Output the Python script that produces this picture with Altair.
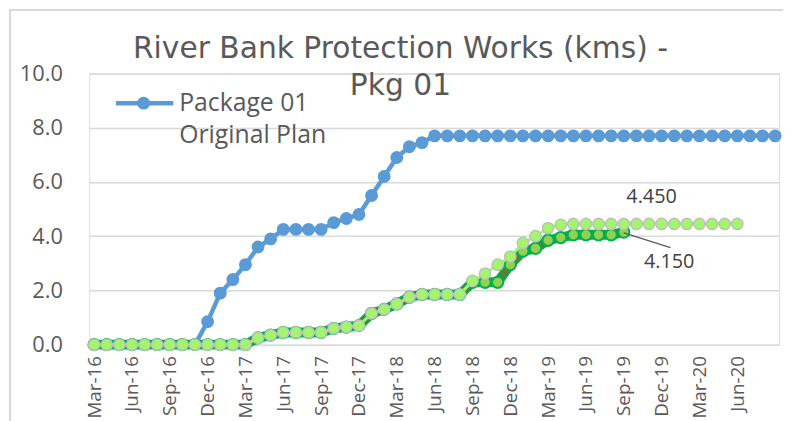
import altair as alt
import pandas as pd

# ---- data ----
months = pd.date_range("2016-03-01", "2020-09-01", freq="MS")
month_labels = [d.strftime("%b-%y") for d in months]

plan = [0, 0, 0, 0, 0, 0, 0, 0, 0,
        0.85, 1.9, 2.4, 2.95, 3.6, 3.9, 4.25, 4.25, 4.25, 4.25,
        4.5, 4.65, 4.8, 5.5, 6.2, 6.9, 7.3, 7.45,
        7.7, 7.7, 7.7, 7.7, 7.7, 7.7, 7.7, 7.7, 7.7, 7.7, 7.7, 7.7, 7.7, 7.7,
        7.7, 7.7, 7.7, 7.7, 7.7, 7.7, 7.7, 7.7, 7.7, 7.7, 7.7, 7.7, 7.7, 7.7]

actual = [0, 0, 0, 0, 0, 0, 0, 0, 0, 0, 0, 0, 0,
          0.25, 0.35, 0.45, 0.45, 0.45, 0.45, 0.6, 0.65, 0.7, 1.15, 1.3, 1.5,
          1.75, 1.85, 1.85, 1.85, 1.85, 2.3, 2.3, 2.3, 2.95, 3.45, 3.55, 3.85,
          3.95, 4.05, 4.05, 4.05, 4.05, 4.15]

revised = [0, 0, 0, 0, 0, 0, 0, 0, 0, 0, 0, 0, 0,
           0.25, 0.35, 0.45, 0.45, 0.45, 0.45, 0.6, 0.65, 0.7, 1.15, 1.3, 1.5,
           1.75, 1.85, 1.85, 1.85, 1.85, 2.35, 2.62, 2.95, 3.25, 3.75, 4.0, 4.3,
           4.42, 4.45, 4.45, 4.45, 4.45, 4.45, 4.45, 4.45, 4.45, 4.45, 4.45, 4.45,
           4.45, 4.45, 4.45]

x_ticks = list(range(0, 52, 3))
y_ticks = [0, 2, 4, 6, 8, 10]

ann_text = ["4.450", "4.150"]
ann_idx = [44.2, 45.6]
ann_val = [5.43, 3.03]
leader_from = (42, 4.12)
leader_to = (45.7, 3.58)

legend_label = ["Package 01", "Original Plan"]

FONT = "Open Sans"
GREY = "#595959"

df_plan = pd.DataFrame({"idx": range(len(plan)), "v": plan})
df_act = pd.DataFrame({"idx": range(len(actual)), "v": actual})
df_rev = pd.DataFrame({"idx": range(len(revised)), "v": revised})
df_ann = pd.DataFrame({"idx": ann_idx, "v": ann_val, "t": ann_text})
df_lead = pd.DataFrame({"idx": [leader_from[0]], "v": [leader_from[1]],
                        "idx2": [leader_to[0]], "v2": [leader_to[1]]})

label_js = "[" + ",".join("'%s'" % s for s in month_labels) + "][datum.value]"

x_enc = alt.X("idx:Q",
              scale=alt.Scale(domain=[-0.392, 54.31], nice=False, zero=False),
              axis=alt.Axis(values=x_ticks, labelExpr=label_js, labelAngle=270,
                            labelFontSize=19, labelFont=FONT, labelColor=GREY,
                            labelPadding=11, ticks=False, domain=False, grid=False,
                            labelOverlap=False, labelFlush=False, title=None))
y_enc = alt.Y("v:Q",
              scale=alt.Scale(domain=[0, 10], nice=False),
              axis=alt.Axis(values=y_ticks, format=".1f", labelFontSize=22,
                            labelFont=FONT, labelColor=GREY, labelPadding=27,
                            ticks=False, domain=False, grid=True,
                            gridColor="#d9d9d9", gridWidth=1.5, title=None))

frame = alt.Chart(pd.DataFrame({"a": [0]})).mark_rect(
    fill=None, stroke="#d9d9d9", strokeWidth=2).encode(
    x=alt.value(-80), x2=alt.value(800), y=alt.value(-64), y2=alt.value(500))

base_plan = alt.Chart(df_plan).encode(x=x_enc, y=y_enc)
plan_line = base_plan.mark_line(color="#5b9bd5", strokeWidth=4.5)
plan_pts = base_plan.mark_point(filled=True, color="#5b9bd5", size=170, opacity=1, shape="circle")

base_act = alt.Chart(df_act).encode(x="idx:Q", y="v:Q")
act_edge = base_act.mark_line(color="#00b050", strokeWidth=10, strokeJoin="round", strokeCap="round")
act_line = base_act.mark_line(color="#548235", strokeWidth=7, strokeJoin="round", strokeCap="round")
act_pts = base_act.mark_point(filled=True, fill="#92d050", stroke="#00b050", strokeWidth=2,
                              size=130, opacity=1, shape="circle")

base_rev = alt.Chart(df_rev).encode(x="idx:Q", y="v:Q")
rev_line = base_rev.mark_line(color="#99ff66", strokeWidth=3)
rev_pts = base_rev.mark_point(filled=True, fill="#a3f56b", stroke="#bfbfbf", strokeWidth=1.5,
                              size=130, opacity=1, shape="circle")

lead = alt.Chart(df_lead).mark_rule(color=GREY, strokeWidth=1.2).encode(
    x="idx:Q", x2="idx2:Q", y="v:Q", y2="v2:Q")
ann = alt.Chart(df_ann).mark_text(font=FONT, fontSize=20, color="#404040").encode(
    x="idx:Q", y="v:Q", text="t:N")

one = pd.DataFrame({"a": [0]})
leg_line = alt.Chart(one).mark_rule(color="#5b9bd5", strokeWidth=4.5).encode(
    x=alt.value(27), x2=alt.value(85), y=alt.value(30))
leg_pt = alt.Chart(one).mark_point(filled=True, color="#5b9bd5", size=170, opacity=1).encode(
    x=alt.value(55), y=alt.value(30))
leg_t1 = alt.Chart(one).mark_text(font=FONT, fontSize=25, color=GREY, align="left",
                                  baseline="middle").encode(
    x=alt.value(91), y=alt.value(30), text=alt.value(legend_label[0]))
leg_t2 = alt.Chart(one).mark_text(font=FONT, fontSize=25, color=GREY, align="left",
                                  baseline="middle").encode(
    x=alt.value(91), y=alt.value(62), text=alt.value(legend_label[1]))

chart = alt.layer(
    frame, plan_line, plan_pts, act_edge, act_line, act_pts, rev_line, rev_pts,
    lead, ann, leg_line, leg_pt, leg_t1, leg_t2
).properties(
    width=697, height=274,
    title=alt.Title(text=["River Bank Protection Works (kms) -", "Pkg 01"],
                    font="DejaVu Sans", fontSize=30, fontWeight="normal", color=GREY,
                    lineHeight=38, anchor="middle", dx=-34, offset=-93),
    autosize=alt.AutoSizeParams(type="none"),
    padding={"left": 82, "top": 64, "right": 4, "bottom": 75},
).configure_view(stroke=None).configure(background="white")

chart.save("out.html", embed_options={"renderer": "svg", "actions": False})
